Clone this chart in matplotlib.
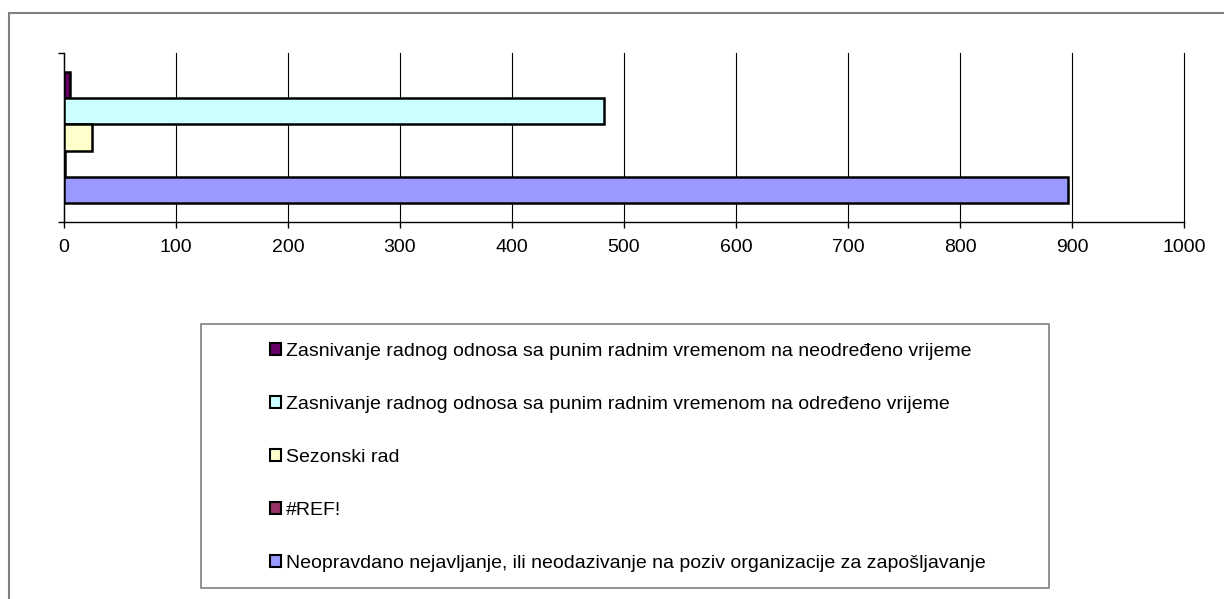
import matplotlib
matplotlib.use("Agg")
import matplotlib.pyplot as plt
from matplotlib.patches import Rectangle, Patch

plt.rcParams['font.family'] = ['Liberation Sans', 'DejaVu Sans']

series = [
    "Zasnivanje radnog odnosa sa punim radnim vremenom na neodređeno vrijeme",
    "Zasnivanje radnog odnosa sa punim radnim vremenom na određeno vrijeme",
    "Sezonski rad",
    "#REF!",
    "Neopravdano nejavljanje, ili neodazivanje na poziv organizacije za zapošljavanje",
]
values = [5, 482, 25, 1, 896]
colors = ["#660066", "#CCFFFF", "#FFFFCC", "#993366", "#9999FF"]
xticks = list(range(0, 1001, 100))

W, H = 1224, 599
fig = plt.figure(figsize=(W / 100, H / 100), dpi=100)

# outer chart border (only top/left visible in crop)
fig.patches.append(Rectangle((9 / W, -0.1), 2.0, 1 - 13 / H + 0.1,
                             transform=fig.transFigure, fill=False,
                             edgecolor="#808080", linewidth=1.5, zorder=0))

ax = fig.add_axes([64 / W, 1 - 222 / H, (1184 - 64) / W, (222 - 53) / H])

n = len(series)
group = 0.77
h = group / n
for i, (lab, v, c) in enumerate(zip(series, values, colors)):
    y = (n - 1) / 2 * h - i * h
    ax.barh(y, v, height=h, color=c, edgecolor="black", linewidth=1.8,
            label=lab, zorder=3)

ax.set_xlim(0, 1000)
ax.set_ylim(-0.5, 0.5)
ax.set_xticks(xticks)
ax.set_xticklabels([str(t) for t in xticks], fontsize=14)
ax.set_yticks([-0.5, 0.5])
ax.set_yticklabels([])
ax.tick_params(axis='x', direction='out', length=4, width=1, pad=8, colors='black')
ax.tick_params(axis='y', direction='out', length=4.5, width=1)
ax.grid(axis='x', color='black', linewidth=0.8, zorder=0)
for gl in ax.get_xgridlines():
    gl.set_clip_on(False)
for s in ['top', 'right']:
    ax.spines[s].set_visible(False)
ax.spines['left'].set_linewidth(1)
ax.spines['bottom'].set_linewidth(1)

# legend box
fig.patches.append(Rectangle((201 / W, 1 - 588 / H), (1049 - 201) / W, (588 - 324) / H,
                             transform=fig.transFigure, fill=False,
                             edgecolor="#808080", linewidth=1.2, zorder=1))

handles = [Patch(facecolor=c, edgecolor="black", linewidth=1.5) for c in colors]
leg = fig.legend(handles, series, loc='center', bbox_to_anchor=(628 / W, 1 - 457.5 / H),
                 frameon=False, fontsize=14, handlelength=0.55, handleheight=0.55,
                 handletextpad=0.25, labelspacing=1.85, borderpad=0)

fig.savefig("out.png", dpi=100)
